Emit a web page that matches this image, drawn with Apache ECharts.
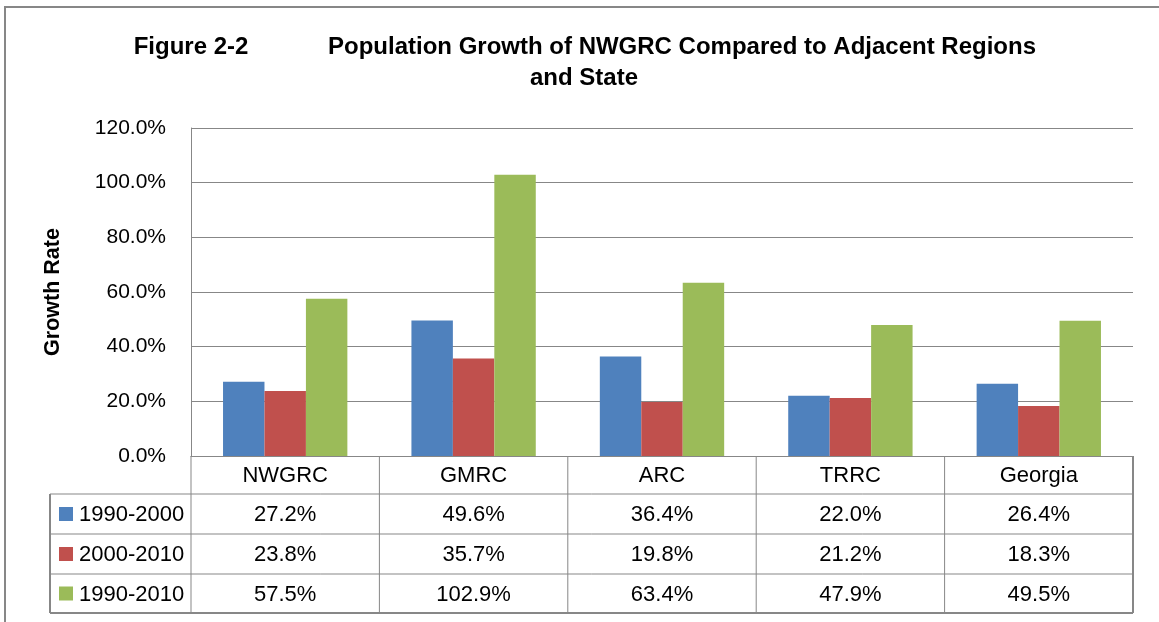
<!DOCTYPE html>
<html><head><meta charset="utf-8">
<script src="https://cdn.jsdelivr.net/npm/echarts@6/dist/echarts.min.js"></script>
<style>html,body{margin:0;padding:0;background:#fff}#c{width:1159px;height:622px}</style>
</head><body><div id="c"></div>
<script>
const categories = ['NWGRC', 'GMRC', 'ARC', 'TRRC', 'Georgia'];
const seriesNames = ['1990-2000', '2000-2010', '1990-2010'];
const growth1990_2000 = [27.2, 49.6, 36.4, 22.0, 26.4];
const growth2000_2010 = [23.8, 35.7, 19.8, 21.2, 18.3];
const growth1990_2010 = [57.5, 102.9, 63.4, 47.9, 49.5];
const titleFigure = 'Figure 2-2';
const titleLine1 = 'Population Growth of NWGRC Compared to Adjacent Regions';
const titleLine2 = 'and State';
const yAxisTitle = 'Growth Rate';

const seriesValues = [growth1990_2000, growth2000_2010, growth1990_2010];
const colors = ['#4f81bd', '#c0504d', '#9bbb59'];
const FONT = "'Liberation Sans', Arial, sans-serif";
const GRID = '#878787';

const chart = echarts.init(document.getElementById('c'), null, {renderer: 'canvas'});
const option = {
  animation: false,
  backgroundColor: '#fff',
  textStyle: {fontFamily: FONT},
  grid: {left: 191, right: 26, top: 128, bottom: 166, containLabel: false},
  xAxis: {
    type: 'category', data: categories,
    axisLine: {show: true, lineStyle: {color: GRID, width: 1}},
    axisTick: {show: false},
    axisLabel: {color: '#000', fontSize: 22, fontFamily: FONT, margin: 9}
  },
  yAxis: {
    type: 'value', min: 0, max: 120, interval: 20,
    name: yAxisTitle, nameLocation: 'middle', nameRotate: 90, nameGap: 127,
    nameTextStyle: {fontSize: 21.5, fontWeight: 'bold', color: '#000', fontFamily: FONT},
    axisLine: {show: true, lineStyle: {color: GRID, width: 1}},
    axisTick: {show: false},
    axisLabel: {color: '#000', fontSize: 21, fontFamily: FONT, margin: 25,
      formatter: v => v.toFixed(1) + '%'},
    splitLine: {show: true, lineStyle: {color: GRID, width: 1}}
  },
  series: seriesValues.map((vals, i) => ({
    name: seriesNames[i], type: 'bar', data: vals,
    barGap: '0%', barCategoryGap: '34%',
    itemStyle: {color: colors[i]}
  }))
};
chart.setOption(option);

// build data table under the axis using the chart's own scale
const p0 = chart.convertToPixel({gridIndex: 0}, [0, 0]);
const p1 = chart.convertToPixel({gridIndex: 0}, [1, 0]);
const band = p1[0] - p0[0];
const tableX0 = p0[0] - band / 2;
const tableX1 = tableX0 + band * categories.length;
const y0 = p0[1];
const rows = [y0, y0 + 38, y0 + 78, y0 + 118, y0 + 157];
const legendLeft = 50;
const g = [];
const line = (x1, y1, x2, y2, w) => g.push({type: 'line', silent: true, shape: {x1, y1, x2, y2}, style: {stroke: GRID, lineWidth: w}});
const text = (t, x, y, align, font) => g.push({type: 'text', silent: true, style: {text: t, x, y, align, verticalAlign: 'middle', font: font || ('22px ' + FONT), fill: '#000'}});

// outer frame
g.push({type: 'rect', silent: true, shape: {x: 5, y: 7, width: 1170, height: 630}, style: {fill: null, stroke: GRID, lineWidth: 2}});
// titles
text(titleFigure, 191, 47, 'center', 'bold 24px ' + FONT);
text(titleLine1, 682, 47, 'center', 'bold 24px ' + FONT);
text(titleLine2, 584, 78, 'center', 'bold 24px ' + FONT);

// table lines
line(legendLeft, rows[1], tableX1, rows[1], 1);
line(legendLeft, rows[2], tableX1, rows[2], 1);
line(legendLeft, rows[3], tableX1, rows[3], 1);
line(legendLeft, rows[4], tableX1, rows[4], 2);
line(legendLeft, rows[1], legendLeft, rows[4], 2);
for (let i = 0; i <= categories.length; i++) {
  const x = tableX0 + band * i;
  line(x, rows[0], x, rows[4], i === categories.length ? 2 : 1);
}
// table cells
seriesValues.forEach((vals, r) => {
  const yc = (rows[r + 1] + rows[r + 2]) / 2;
  g.push({type: 'rect', silent: true, shape: {x: 59, y: yc - 7, width: 14, height: 14}, style: {fill: colors[r]}});
  text(seriesNames[r], 79, yc + 1, 'left');
  vals.forEach((v, c) => {
    const xc = chart.convertToPixel({gridIndex: 0}, [c, 0])[0];
    text(v.toFixed(1) + '%', xc, yc + 1, 'center');
  });
});
chart.setOption({graphic: g}, {replaceMerge: ['graphic']});
</script></body></html>
